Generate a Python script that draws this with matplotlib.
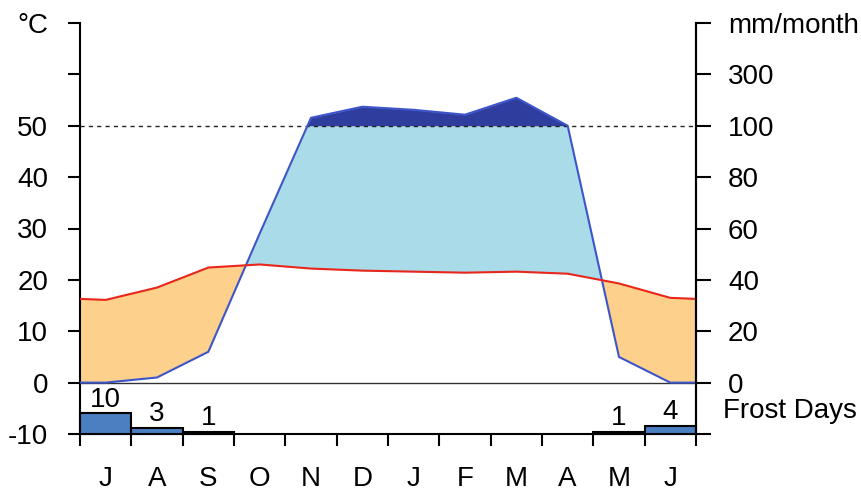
import matplotlib
matplotlib.use('Agg')
import matplotlib.pyplot as plt
import matplotlib.transforms as mtrans
import numpy as np

plt.rcParams['font.family'] = ['Liberation Sans', 'DejaVu Sans']

# months, starting in July (southern hemisphere station)
months = ['J', 'A', 'S', 'O', 'N', 'D', 'J', 'F', 'M', 'A', 'M', 'J']
temp = [16.1, 18.5, 22.4, 23.0, 22.2, 21.8, 21.6, 21.4, 21.6, 21.2, 19.3, 16.5]   # deg C
precip = [0, 2, 12, 58, 131, 174, 162, 143, 209, 100, 10, 0]                     # mm/month
frost_days = [10, 3, 1, 0, 0, 0, 0, 0, 0, 0, 1, 4]

left_ticklabels = ['-10', '0', '10', '20', '30', '40', '50', '', '°C']
right_ticklabels = ['', '0', '20', '40', '60', '80', '100', '300', 'mm/month']

FS = 20
ORANGE = '#fdd18b'
LIGHTBLUE = '#a9dbe9'
DARKBLUE = '#2f3e9e'
PLINE = '#3d55c8'
TLINE = '#e8261c'
FROST = '#4a7fc2'


def scale_precip(p):
    # walter-lieth: 0-100mm -> 0-50, above 100 compressed 1:20
    p = np.asarray(p, dtype=float)
    return np.where(p <= 100, p / 2.0, 50 + (p - 100) / 20.0)


def main():
    fig = plt.figure(figsize=(8.61, 4.91), dpi=100)
    ax = fig.add_axes([80/861, 57/491, 616/861, 411/491])

    xc = np.arange(12) + 0.5
    # close the curves at the year edges
    t_edge = (temp[0] + temp[-1]) / 2
    p_edge = (precip[0] + precip[-1]) / 2
    xp = np.concatenate([[0], xc, [12]])
    tp = np.concatenate([[t_edge], temp, [t_edge]])
    pp = scale_precip(np.concatenate([[p_edge], precip, [p_edge]]))

    xs = np.linspace(0, 12, 2401)
    t = np.interp(xs, xp, tp)
    p = np.interp(xs, xp, pp)

    ax.fill_between(xs, p, t, where=p < t, interpolate=True, color=ORANGE, lw=0, zorder=1)
    ax.fill_between(xs, t, np.minimum(p, 50), where=p > t, interpolate=True,
                    color=LIGHTBLUE, lw=0, zorder=1)
    ax.fill_between(xs, 50, p, where=p > 50, interpolate=True, color=DARKBLUE, lw=0, zorder=1)

    ax.axhline(0, color='#333333', lw=1.0, zorder=2)
    ax.axhline(50, color='#222222', lw=1.0, ls=(0, (3, 3)), zorder=2)

    ax.plot(xp, pp, color=PLINE, lw=1.5, zorder=3)
    ax.plot(xp, tp, color=TLINE, lw=1.5, zorder=3)

    # frost days as small bars on the -10 line
    fd = np.array(frost_days)
    h = fd * 0.4
    for i in range(12):
        if fd[i] == 0:
            continue
        ax.bar(xc[i], h[i], width=1.0, bottom=-10, color=FROST, edgecolor='black',
               lw=1.5, zorder=4, clip_on=False)
        ax.text(xc[i], -10 + h[i] + 0.1, str(fd[i]), ha='center', va='bottom',
                fontsize=FS, zorder=5)

    ax.set_xlim(0, 12)
    ax.set_ylim(-10, 70)

    ax.spines['top'].set_visible(False)
    for s in ['left', 'right', 'bottom']:
        ax.spines[s].set_linewidth(1.5)

    ax.set_xticks(np.arange(13))
    ax.set_xticklabels([])
    ax.set_xticks(xc, minor=True)
    ax.set_xticklabels(months, minor=True)
    ax.tick_params(axis='x', which='major', direction='out', length=8.5, width=1.5)
    ax.tick_params(axis='x', which='minor', length=0, pad=23, labelsize=FS)

    yt = np.arange(-10, 71, 10)
    ax.set_yticks(yt)
    ax.set_yticklabels(left_ticklabels)
    ax.tick_params(axis='y', direction='out', length=9, width=1.5, pad=14, labelsize=FS)

    ax2 = ax.twinx()
    ax2.set_ylim(-10, 70)
    ax2.set_yticks(yt)
    ax2.set_yticklabels(right_ticklabels)
    ax2.tick_params(axis='y', direction='out', length=11, width=1.5, pad=12, labelsize=FS)
    for s in ['top', 'left', 'bottom']:
        ax2.spines[s].set_visible(False)
    ax2.spines['right'].set_linewidth(1.5)

    trans = mtrans.blended_transform_factory(ax.transAxes, ax.transData)
    ax.text(1.044, -5.6, 'Frost Days', transform=trans, ha='left', va='center', fontsize=FS)

    fig.savefig('out.png', dpi=100)


if __name__ == "__main__":
    main()
